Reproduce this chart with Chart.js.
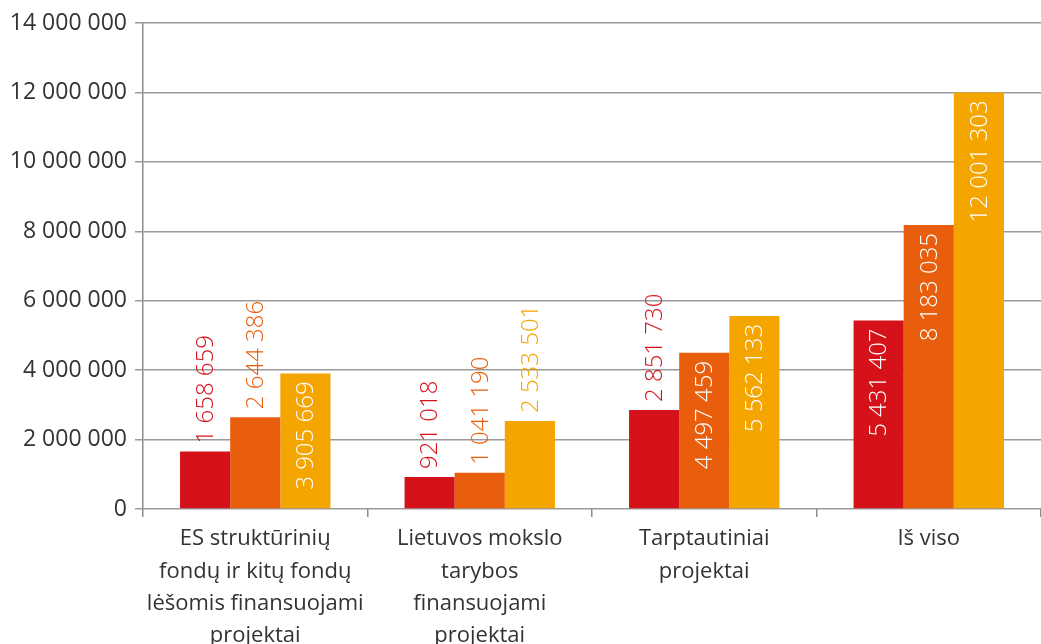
<!DOCTYPE html>
<html lang="lt">
<head>
<meta charset="utf-8">
<title>Projektų finansavimas</title>
<script src="https://cdn.jsdelivr.net/npm/chart.js@4/dist/chart.umd.min.js"></script>
<style>
  html, body { margin: 0; padding: 0; background: #fff; }
  #wrap { width: 1041px; height: 644px; }
</style>
</head>
<body>
<div id="wrap"><canvas id="funding" width="1041" height="644"></canvas></div>
<script>
var categories = [
  ['ES struktūrinių', 'fondų ir kitų fondų', 'lėšomis finansuojami', 'projektai'],
  ['Lietuvos mokslo', 'tarybos', 'finansuojami', 'projektai'],
  ['Tarptautiniai', 'projektai'],
  ['Iš viso']
];
var seriesA = [1658659, 921018, 2851730, 5431407];
var seriesB = [2644386, 1041190, 4497459, 8183035];
var seriesC = [3905669, 2533501, 5562133, 12001303];
var seriesColors = ['#d51219', '#e95e0d', '#f5a500'];
var yTicks = [0, 2000000, 4000000, 6000000, 8000000, 10000000, 12000000, 14000000];

var FONT = '"Open Sans", "Noto Sans", sans-serif';

function spaced(n) {
  return String(Math.round(n)).replace(/\B(?=(\d{3})+(?!\d))/g, ' ');
}

// vertical value labels: inside the bar (white) when they fit, above it otherwise
var barValues = {
  id: 'barValues',
  afterDatasetsDraw: function (chart) {
    var ctx = chart.ctx;
    var pad = 8;
    ctx.save();
    ctx.font = '300 24px ' + FONT;
    ctx.textBaseline = 'middle';
    chart.data.datasets.forEach(function (ds, di) {
      var meta = chart.getDatasetMeta(di);
      meta.data.forEach(function (bar, i) {
        var txt = spaced(ds.data[i]);
        var w = ctx.measureText(txt).width;
        var h = bar.base - bar.y;
        ctx.save();
        if (w + pad * 2 <= h) {
          ctx.translate(bar.x + 1, bar.y + pad);
          ctx.rotate(-Math.PI / 2);
          ctx.textAlign = 'right';
          ctx.fillStyle = '#ffffff';
        } else {
          ctx.translate(bar.x + 1, bar.y - pad);
          ctx.rotate(-Math.PI / 2);
          ctx.textAlign = 'left';
          ctx.fillStyle = ds.backgroundColor;
        }
        ctx.fillText(txt, 0, 0);
        ctx.restore();
      });
    });
    ctx.restore();
  }
};

new Chart(document.getElementById('funding'), {
  type: 'bar',
  data: {
    labels: categories,
    datasets: [
      { data: seriesA, backgroundColor: seriesColors[0] },
      { data: seriesB, backgroundColor: seriesColors[1] },
      { data: seriesC, backgroundColor: seriesColors[2] }
    ]
  },
  options: {
    responsive: false,
    animation: false,
    devicePixelRatio: 1,
    layout: { padding: { top: 23, right: 0, left: 0, bottom: 0 } },
    datasets: {
      bar: { categoryPercentage: 0.67, barPercentage: 1, borderWidth: 0 }
    },
    plugins: {
      legend: { display: false },
      tooltip: { enabled: false }
    },
    scales: {
      x: {
        grid: {
          display: true,
          drawOnChartArea: false,
          drawTicks: true,
          tickLength: 8,
          color: '#8c8c8c',
          lineWidth: 1.5,
          offset: true
        },
        border: { display: false },
        ticks: {
          color: '#333333',
          font: { family: FONT, size: 22, lineHeight: 1.47 },
          padding: 6,
          maxRotation: 0,
          autoSkip: false
        },
        afterFit: function (scale) { scale.height = 135; }
      },
      y: {
        min: 0,
        max: 14000000,
        afterBuildTicks: function (scale) {
          scale.ticks = yTicks.map(function (v) { return { value: v }; });
        },
        grid: {
          color: '#9a9a9a',
          lineWidth: 1.5,
          tickLength: 8
        },
        border: { display: true, color: '#8c8c8c', width: 1.5 },
        ticks: {
          color: '#333333',
          font: { family: FONT, size: 23 },
          padding: 8,
          callback: function (v) { return spaced(v); }
        },
        afterFit: function (scale) { scale.width = 143; }
      }
    }
  },
  plugins: [barValues]
});
</script>
</body>
</html>
